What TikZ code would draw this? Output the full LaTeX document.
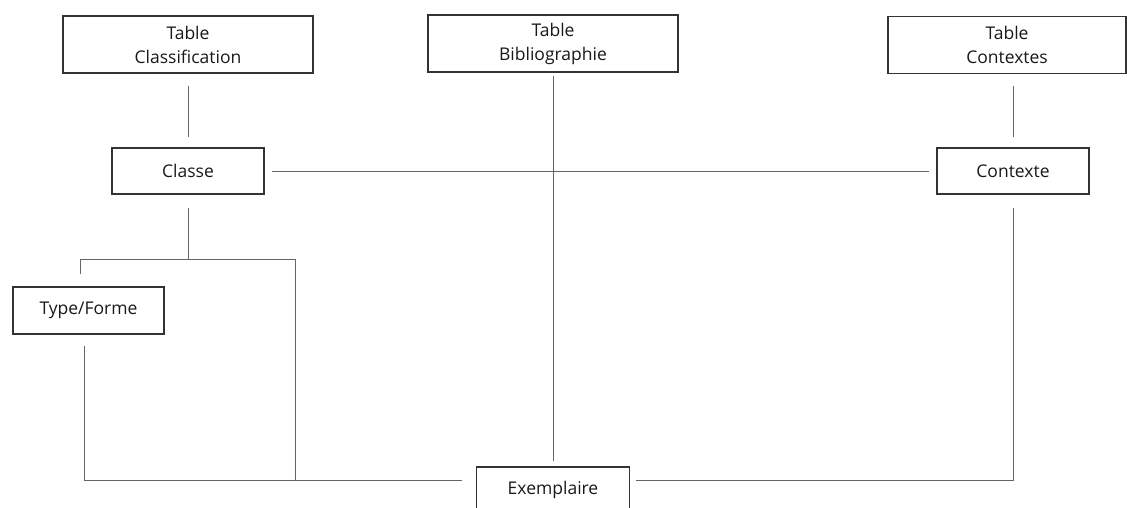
\documentclass[tikz,border=0pt]{standalone}
\usepackage{fontspec}
\setmainfont{Open Sans}
\usetikzlibrary{positioning}

\begin{document}
\begin{tikzpicture}[
  x=1pt, y=-1pt,
  box/.style={draw=black!80, line width=1.4pt, fill=white, text=black!90,
    align=center, inner sep=0pt, font=\fontsize{17.5}{24}\selectfont},
  tbox/.style={box, minimum width=250pt, minimum height=57pt},
  sbox/.style={box, minimum width=152pt, minimum height=46pt},
  link/.style={draw=black!60, line width=0.9pt}]

  \useasboundingbox (0,0) rectangle (1127,508);

  % the three tables
  \node[tbox] (tclass) at (188,44.5) {Table\\Classification};
  \node[tbox] (tbib) at (553,43.5) {Table\\Bibliographie};
  \node[tbox, minimum width=238pt] (tctx) at (1007,45) {Table\\Contextes};

  % the entities
  \node[sbox] (classe) at (188,171) {Classe};
  \node[sbox] (contexte) at (1013,171) {Contexte};
  \node[sbox, minimum width=151pt, minimum height=47pt] (typeforme) at (88.5,310.5) {Type/Forme};
  \node[sbox, minimum width=153pt] (exemplaire) at (553,490) {Exemplaire};

  \coordinate (split) at (188,259);
  \coordinate (tleft) at (80,259);
  \coordinate (tright) at (295,259);
  \coordinate (bright) at (295,480);
  \coordinate (bleft) at (84,480);
  \coordinate (bctx) at (1013,480);

  \draw[link, shorten <=12pt, shorten >=10pt] (tclass) -- (classe);
  \draw[link, shorten <=12pt, shorten >=10pt] (tctx.south -| contexte) -- (contexte);
  \draw[link, shorten <=7pt, shorten >=7pt] (classe) -- (contexte);
  \draw[link, shorten <=3pt, shorten >=5pt] (tbib) -- (exemplaire);

  \draw[link, shorten <=13pt] (classe) -- (split);
  \draw[link] (tleft) -- (tright) -- (bright);
  \draw[link, shorten >=12pt] (tleft) -- (tleft |- typeforme.north);
  \draw[link, shorten <=11pt, shorten >=14pt] (typeforme.south -| bleft) -- (bleft)
    -- (exemplaire.west |- bleft);
  \draw[link, shorten <=13pt, shorten >=6pt] (contexte) -- (bctx)
    -- (exemplaire.east |- bctx);
\end{tikzpicture}
\end{document}
